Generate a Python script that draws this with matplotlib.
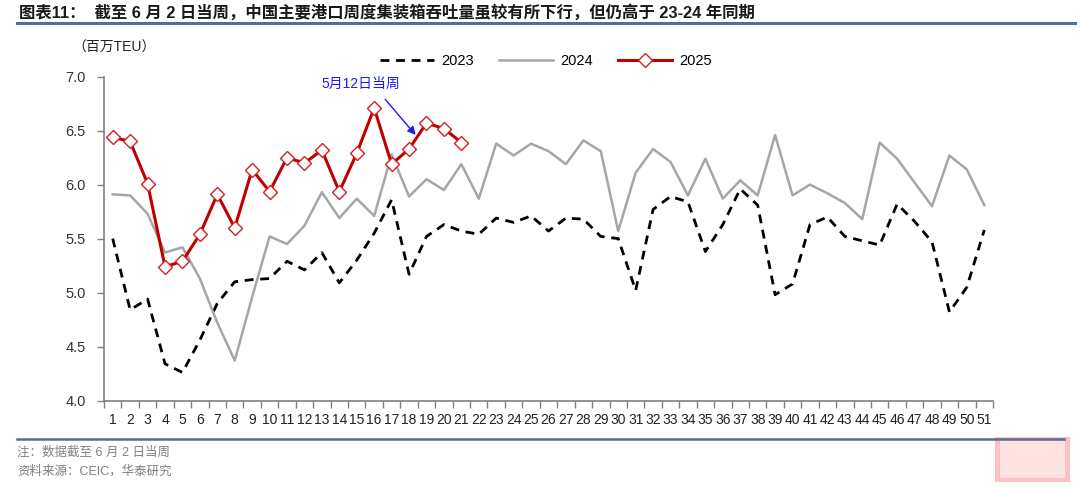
import matplotlib
matplotlib.use("Agg")
import matplotlib.pyplot as plt
from matplotlib.lines import Line2D
from matplotlib.patches import Rectangle

plt.rcParams['font.family'] = ['Liberation Sans', 'Noto Sans CJK SC', 'DejaVu Sans']

weeks = list(range(1, 52))

y2023 = [5.50, 4.84, 4.94, 4.34, 4.26, 4.56, 4.90, 5.10, 5.12, 5.13,
         5.29, 5.21, 5.37, 5.09, 5.30, 5.55, 5.86, 5.17, 5.52, 5.63,
         5.57, 5.54, 5.69, 5.65, 5.71, 5.57, 5.69, 5.68, 5.52, 5.50,
         5.02, 5.77, 5.89, 5.84, 5.38, 5.63, 5.96, 5.81, 4.98, 5.08,
         5.63, 5.70, 5.52, 5.48, 5.44, 5.82, 5.66, 5.47, 4.82, 5.05,
         5.58]

y2024 = [5.91, 5.90, 5.73, 5.37, 5.42, 5.13, 4.72, 4.37, 4.96, 5.52,
         5.45, 5.62, 5.93, 5.69, 5.87, 5.71, 6.28, 5.89, 6.05, 5.95,
         6.19, 5.87, 6.38, 6.27, 6.38, 6.31, 6.19, 6.41, 6.31, 5.57,
         6.11, 6.33, 6.21, 5.90, 6.24, 5.87, 6.04, 5.90, 6.46, 5.90,
         6.00, 5.92, 5.83, 5.68, 6.39, 6.24, 6.02, 5.80, 6.27, 6.14,
         5.81]

y2025 = [6.44, 6.40, 6.01, 5.24, 5.29, 5.54, 5.91, 5.60, 6.14, 5.935,
         6.25, 6.20, 6.32, 5.935, 6.29, 6.71, 6.19, 6.33, 6.57, 6.52,
         6.39]

series_labels = ['2023', '2024', '2025']
title = '图表11：  截至 6 月 2 日当周，中国主要港口周度集装箱吞吐量虽较有所下行，但仍高于 23-24 年同期'
unit_label = '（百万TEU）'
annot_text = '5月12日当周'
annot_week = 18
notes = ['注：数据截至 6 月 2 日当周', '资料来源：CEIC，华泰研究']

W, H = 1080, 487
fig = plt.figure(figsize=(W / 100, H / 100), dpi=100)
ax = fig.add_axes([104 / W, 1 - 400.5 / H, (993 - 104) / W, (400.5 - 76.7) / H])

l23, = ax.plot(weeks, y2023, color='black', lw=2.0, linestyle=(0, (3.2, 2.4)))
l24, = ax.plot(weeks, y2024, color='#a6a6a6', lw=1.8)
l25, = ax.plot(weeks[:len(y2025)], y2025, color='#c00000', lw=2.2, marker='D',
               markersize=7.5, markerfacecolor='white', markeredgecolor='#d42020',
               markeredgewidth=1.0)

ax.set_xlim(0.5, 51.5)
ax.set_ylim(4.0, 7.0)
ax.set_yticks([4.0, 4.5, 5.0, 5.5, 6.0, 6.5, 7.0])
ax.set_yticklabels([f'{v:.1f}' for v in [4.0, 4.5, 5.0, 5.5, 6.0, 6.5, 7.0]])
ax.set_xticks(weeks)
ax.set_xticklabels([str(w) for w in weeks])
ax.set_xticks([w + 0.5 for w in [0] + weeks], minor=True)
ax.tick_params(axis='x', which='major', length=0, pad=9, labelsize=10, labelcolor='#222222')
ax.tick_params(axis='x', which='minor', length=5, width=1, color='#808080', direction='out')
ax.tick_params(axis='y', length=5, width=1, color='#808080', direction='out', pad=8,
               labelsize=10.5, labelcolor='#333333')
for s in ['top', 'right']:
    ax.spines[s].set_visible(False)
for s in ['left', 'bottom']:
    ax.spines[s].set_color('#808080')
    ax.spines[s].set_linewidth(1.2)

ax.annotate(annot_text, xy=(annot_week + 0.38, 6.46), xytext=(15.24, 6.93),
            textcoords='data', ha='center', va='center', color='#1a1aff', fontsize=10,
            arrowprops=dict(arrowstyle='-|>', color='#1a1aff', lw=1.0,
                            mutation_scale=12, shrinkA=5, shrinkB=0,
                            relpos=(0.72, 0.0)))

fig.legend([l23, l24, l25], series_labels, loc='center', ncol=3,
           bbox_to_anchor=(546 / W, 1 - 61 / H), frameon=False, fontsize=10.5,
           handlelength=3.7, columnspacing=1.7, handletextpad=0.5)

fig.text(19 / W, 1 - 12 / H, title, fontsize=11.8, fontweight='bold', va='center',
         ha='left', color='#1a1a1a')
fig.add_artist(Line2D([17 / W, 1075 / W], [1 - 22.5 / H, 1 - 22.5 / H],
                      color='#4f6f9f', lw=2.2))
fig.text(72 / W, 1 - 48 / H, unit_label, fontsize=10, va='center', ha='left',
         color='#222222')

fig.add_artist(Line2D([17 / W, 1064 / W], [1 - 438.5 / H, 1 - 438.5 / H],
                      color='#5a6b92', lw=1.8))
fig.text(17 / W, 1 - 453 / H, notes[0], fontsize=9, va='center', ha='left', color='#808080')
fig.text(17 / W, 1 - 471 / H, notes[1], fontsize=9, va='center', ha='left', color='#808080')

fig.add_artist(Rectangle((995 / W, 1 - 482 / H), 75 / W, 45 / H, transform=fig.transFigure,
                         facecolor='#ffc0c0', edgecolor='none', zorder=0))
fig.add_artist(Rectangle((1000 / W, 1 - 478 / H), 65 / W, 37 / H, transform=fig.transFigure,
                         facecolor='#ffe2e2', edgecolor='none', zorder=0.5))

fig.savefig('out.png', dpi=100)
